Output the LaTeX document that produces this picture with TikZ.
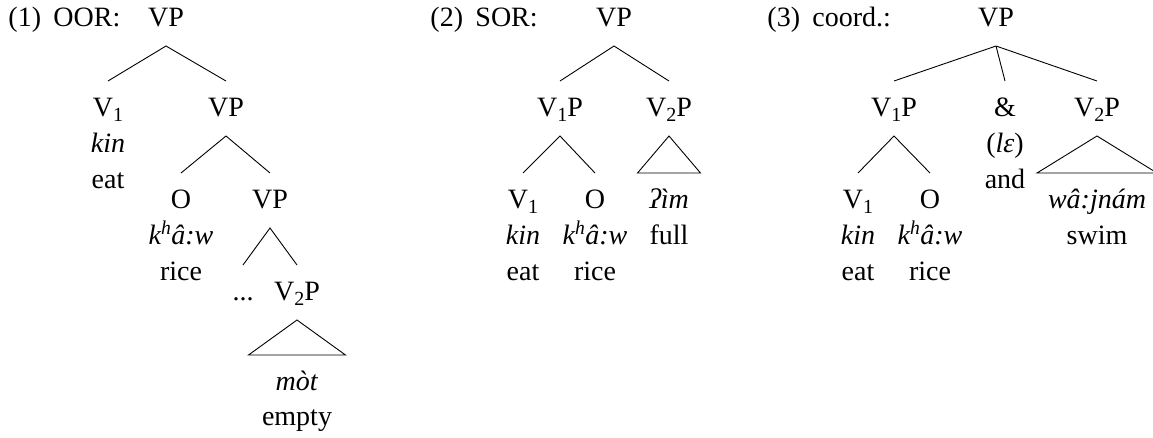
\documentclass[tikz,border=0pt]{standalone}
\usepackage{fontspec}
\setmainfont{Liberation Serif}
% index digit on a category label
\newcommand\idx[1]{\raisebox{-5.5pt}{\fontsize{20}{20}\selectfont #1}}
\begin{document}
\begin{tikzpicture}[x=1pt, y=-1pt, line width=0.9pt,
  every node/.style={font=\fontsize{28}{32}\selectfont, inner sep=0pt},
  tag/.style={anchor=base west},
  cat/.style={anchor=base, text height=20pt, text depth=5pt, outer ysep=15pt},
  wd/.style={anchor=base}]
\useasboundingbox (0,0) rectangle (1153,437);

% (1) object-oriented reading
\node[tag] (t1) at (8,26) {(1)};
\node[tag] (t1n) at (53,26) {OOR:};
\node[cat] (a0) at (166,26) {VP};
\node[cat] (a1) at (108,116) {V\idx{1}};
\node[wd] (a1g) at (108,152) {\textit{kin}};
\node[wd] (a1e) at (108,188) {eat};
\node[cat] (a2) at (226,116) {VP};
\node[cat] (a3) at (181,208) {O};
\node[wd] (a3g) at (181,244) {\textit{k\textsuperscript{h}â:w}};
\node[wd] (a3e) at (181,280) {rice};
\node[cat] (a4) at (270,208) {VP};
\node[cat] (a5) at (243,300) {...};
\node[cat] (a6) at (297,300) {V\idx{2}P};
\node[cat] (a7) at (297,390) {\textit{mòt}};
\node[wd] (a7e) at (297,425) {empty};
\draw (a1.north) -- (a0.south) -- (a2.north);
\draw (a3.north) -- (a2.south) -- (a4.north);
\draw (a5.north) -- (a4.south) -- (a6.north);
\draw (a6.south) -- ([xshift=-48.5pt]a7.north) -- ([xshift=48.5pt]a7.north) -- cycle;

% (2) subject-oriented reading
\node[tag] (t2) at (430,26) {(2)};
\node[tag] (t2n) at (475,26) {SOR:};
\node[cat] (b0) at (614,26) {VP};
\node[cat] (b1) at (560,116) {V\idx{1}P};
\node[cat] (b2) at (669,116) {V\idx{2}P};
\node[cat] (b3) at (523,208) {V\idx{1}};
\node[wd] (b3g) at (523,244) {\textit{kin}};
\node[wd] (b3e) at (523,280) {eat};
\node[cat] (b4) at (595,208) {O};
\node[wd] (b4g) at (595,244) {\textit{k\textsuperscript{h}â:w}};
\node[wd] (b4e) at (595,280) {rice};
\node[cat] (b5) at (669,208) {\textit{ʔìm}};
\node[wd] (b5e) at (669,244) {full};
\draw (b1.north) -- (b0.south) -- (b2.north);
\draw (b3.north) -- (b1.south) -- (b4.north);
\draw (b2.south) -- ([xshift=-31.5pt]b5.north) -- ([xshift=31.5pt]b5.north) -- cycle;

% (3) coordination
\node[tag] (t3) at (767,26) {(3)};
\node[tag] (t3n) at (812,26) {coord.:};
\node[cat] (c0) at (996,26) {VP};
\node[cat] (c1) at (894,116) {V\idx{1}P};
\node[cat] (c2) at (1005,116) {\&};
\node[wd] (c2g) at (1005,152) {(\textit{lɛ})};
\node[wd] (c2e) at (1005,188) {and};
\node[cat] (c3) at (1097,116) {V\idx{2}P};
\node[cat] (c4) at (858,208) {V\idx{1}};
\node[wd] (c4g) at (858,244) {\textit{kin}};
\node[wd] (c4e) at (858,280) {eat};
\node[cat] (c5) at (930,208) {O};
\node[wd] (c5g) at (930,244) {\textit{k\textsuperscript{h}â:w}};
\node[wd] (c5e) at (930,280) {rice};
\node[cat] (c6) at (1097,208) {\textit{wâ:jnám}};
\node[wd] (c6e) at (1097,244) {swim};
\draw (c1.north) -- (c0.south) -- (c3.north);
\draw (c0.south) -- (c2.north);
\draw (c4.north) -- (c1.south) -- (c5.north);
\draw (c3.south) -- ([xshift=-60pt]c6.north) -- ([xshift=60pt]c6.north) -- cycle;
\end{tikzpicture}
\end{document}
